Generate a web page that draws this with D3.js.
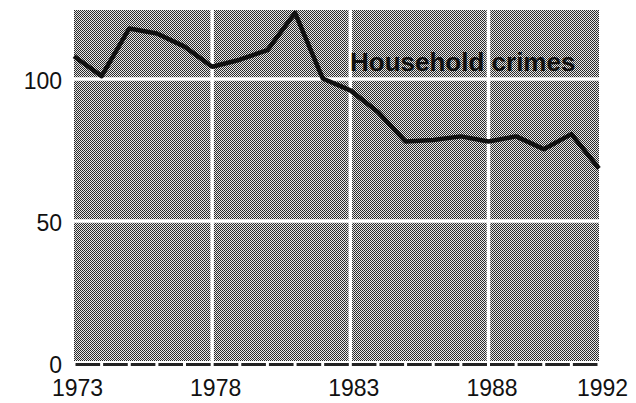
<!DOCTYPE html>
<html lang="en">
<head>
  <meta charset="UTF-8">
  <title>Household crimes</title>
  <script src="https://d3js.org/d3.v7.min.js"></script>
  <style>
    body { margin: 0; background: white; }
    svg { display: block; }
    .tick-label { font-family: "Liberation Sans", Arial, sans-serif; font-size: 23px; fill: #111; }
    .series-label { font-family: "Liberation Sans", Arial, sans-serif; font-size: 26px; font-weight: bold; fill: #111; }
  </style>
</head>
<body>
  <svg width="636" height="403"></svg>

  <script>
    // data (index, 1973 = 100-ish)
    const years = [1973, 1974, 1975, 1976, 1977, 1978, 1979, 1980, 1981, 1982,
                   1983, 1984, 1985, 1986, 1987, 1988, 1989, 1990, 1991, 1992];
    const values = [108, 101, 117.8, 116, 111.4, 104.3, 106.8, 110.2, 123.3, 100.2,
                    96, 88.4, 78, 78.5, 79.8, 78, 79.8, 75.3, 80.6, 68.5];
    const xTickYears = [1973, 1978, 1983, 1988, 1992];
    const yTickValues = [0, 50, 100];
    const gridYears = [1978, 1983, 1988];
    const gridValues = [50, 100];
    const seriesName = "Household crimes";

    const margin = { top: 10, right: 37, bottom: 40, left: 74 };
    const width = 636 - margin.left - margin.right;
    const height = 403 - margin.top - margin.bottom;

    const svg = d3.select("svg");

    // halftone-ish fill
    const defs = svg.append("defs");
    const pat = defs.append("pattern")
      .attr("id", "halftone")
      .attr("patternUnits", "userSpaceOnUse")
      .attr("width", 2)
      .attr("height", 2);
    pat.append("rect").attr("width", 2).attr("height", 2).attr("fill", "#e6e6e6");
    pat.append("rect").attr("x", 0).attr("y", 0).attr("width", 1).attr("height", 1).attr("fill", "#262626");
    pat.append("rect").attr("x", 1).attr("y", 1).attr("width", 1).attr("height", 1).attr("fill", "#303030");

    const g = svg.append("g")
      .attr("transform", `translate(${margin.left},${margin.top})`);

    const x = d3.scaleLinear().domain([1973, 1992]).range([0, width]);
    const y = d3.scaleLinear().domain([0, 124.3]).range([height, 0]);

    g.append("rect")
      .attr("x", 0)
      .attr("y", 0)
      .attr("width", width)
      .attr("height", y(0) - 2)
      .attr("fill", "url(#halftone)");

    // white grid
    g.selectAll(".gx")
      .data(gridYears)
      .enter()
      .append("line")
      .attr("x1", d => x(d)).attr("x2", d => x(d))
      .attr("y1", 0).attr("y2", y(0) - 2)
      .attr("stroke", "white")
      .attr("stroke-width", 3.5);

    g.selectAll(".gy")
      .data(gridValues)
      .enter()
      .append("line")
      .attr("x1", 0).attr("x2", width)
      .attr("y1", d => y(d)).attr("y2", d => y(d))
      .attr("stroke", "white")
      .attr("stroke-width", 3.5);

    // baseline broken at every year
    g.selectAll(".base")
      .data(years.slice(0, -1))
      .enter()
      .append("line")
      .attr("x1", d => x(d) + 1.5)
      .attr("x2", d => x(d + 1) - 1.5)
      .attr("y1", y(0) + 1.5)
      .attr("y2", y(0) + 1.5)
      .attr("stroke", "#222")
      .attr("stroke-width", 3);

    // series line
    const line = d3.line()
      .x((d, i) => x(years[i]))
      .y(d => y(d));

    g.append("path")
      .datum(values)
      .attr("fill", "none")
      .attr("stroke", "#111")
      .attr("stroke-width", 4.5)
      .attr("stroke-linejoin", "round")
      .attr("d", line);

    g.append("text")
      .attr("class", "series-label")
      .attr("x", 276)
      .attr("y", 61)
      .text(seriesName);

    // axes (labels only)
    const xAxis = g.append("g")
      .attr("transform", `translate(0, ${height})`)
      .call(d3.axisBottom(x).tickValues(xTickYears).tickFormat(d3.format("d")).tickSize(0));
    xAxis.select(".domain").remove();
    xAxis.selectAll("text")
      .attr("class", "tick-label")
      .attr("dx", 3)
      .attr("dy", 0)
      .attr("y", 33)
      .attr("fill", null);

    const yAxis = g.append("g")
      .call(d3.axisLeft(y).tickValues(yTickValues).tickSize(0));
    yAxis.select(".domain").remove();
    yAxis.selectAll("text")
      .attr("class", "tick-label")
      .attr("x", -12)
      .attr("dy", 9)
      .attr("fill", null);
  </script>
</body>
</html>
